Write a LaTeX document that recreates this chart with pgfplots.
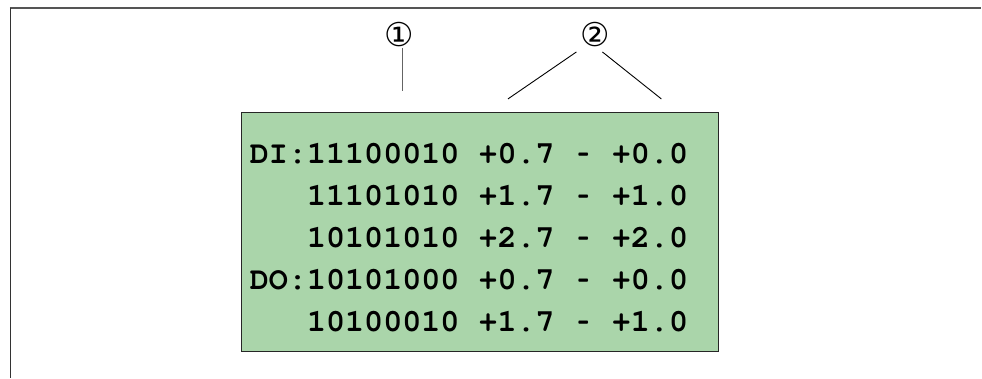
\documentclass[border=0pt]{standalone}
\usepackage[T1]{fontenc}
\usepackage{graphicx}
\usepackage{pgfplots}
\pgfplotsset{compat=1.18}
\usepackage{fontspec}
\setmainfont{Liberation Sans}
\newfontfamily\dejavu{DejaVu Sans}
\newcommand{\courb}{\fontencoding{T1}\fontfamily{pcr}\fontseries{b}\fontshape{n}\fontsize{31.9}{38}\selectfont}
\newcommand{\dsh}{\makebox[0.6em][c]{\scalebox{0.6}[1]{-}}}
\definecolor{boxgreen}{RGB}{170,213,170}
\definecolor{framegray}{RGB}{85,85,85}
\definecolor{leadgray}{RGB}{100,100,100}
\begin{document}
\begin{tikzpicture}
\begin{axis}[
  scale only axis, width=982bp, height=378bp,
  xmin=0, xmax=982, ymin=0, ymax=378, y dir=reverse,
  hide axis, clip=false]
% bounding
\addplot[draw=none] coordinates {(0,0) (982,378)};
% frame lines
\addplot[framegray, line width=2bp] coordinates {(10,8) (982,8)};
\addplot[black!80, line width=1.5bp] coordinates {(10.5,8) (10.5,378)};
% green box
\addplot[fill=boxgreen, draw=black!85, line width=1bp] coordinates {(241.5,113) (719,113) (719,352) (241.5,352)} -- cycle;
% leader lines
\addplot[leadgray, line width=1.3bp] coordinates {(402.7,48) (402.7,91)};
\addplot[black, line width=0.9bp] coordinates {(577,52) (508.5,99)};
\addplot[black, line width=0.9bp] coordinates {(603,52) (662,99)};
% labels
\node[font=\dejavu\fontsize{33}{36}\selectfont, anchor=center, inner sep=0pt] at (axis cs:400,35) {①};
\node[font=\dejavu\fontsize{33}{36}\selectfont, anchor=center, inner sep=0pt] at (axis cs:596,35) {②};
% text lines
\node[font=\courb, anchor=base west, inner sep=0pt] at (axis cs:250,164) {DI:11100010~+0.7~\dsh~+0.0};
\node[font=\courb, anchor=base west, inner sep=0pt] at (axis cs:250,206) {~~~11101010~+1.7~\dsh~+1.0};
\node[font=\courb, anchor=base west, inner sep=0pt] at (axis cs:250,248) {~~~10101010~+2.7~\dsh~+2.0};
\node[font=\courb, anchor=base west, inner sep=0pt] at (axis cs:250,290) {DO:10101000~+0.7~\dsh~+0.0};
\node[font=\courb, anchor=base west, inner sep=0pt] at (axis cs:250,332) {~~~10100010~+1.7~\dsh~+1.0};
\end{axis}
\end{tikzpicture}
\end{document}
